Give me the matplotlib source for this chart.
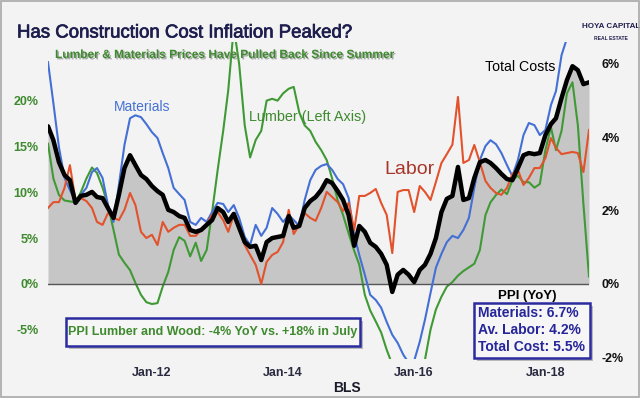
import numpy as np
import pandas as pd
import matplotlib
matplotlib.use('Agg')
import matplotlib.pyplot as plt
import matplotlib.dates as mdates
import matplotlib.patheffects as pe
from matplotlib.patches import Rectangle
from matplotlib import font_manager as fm


def pick(*names):
    for n in names:
        try:
            fm.findfont(fm.FontProperties(family=n), fallback_to_default=False)
            return n
        except Exception:
            pass
    return 'DejaVu Sans'


SANS = pick('Liberation Sans', 'Arial')
NARROW = pick('Roboto', 'Liberation Sans')

# ---------------- data (YoY %, monthly, Jun-2010 .. Sep-2018) ----------------
start_month = '2010-06-01'

total_costs = [4.30, 3.92, 3.32, 2.97, 2.83, 2.21, 2.40, 2.43, 2.51, 2.37,
               2.34, 2.07, 1.80, 2.43, 3.16, 3.51, 3.24, 2.97, 2.86, 2.67,
               2.53, 2.43, 2.02, 1.96, 1.85, 1.80, 1.47, 1.42, 1.47, 1.61,
               1.74, 2.07, 1.96, 1.69, 1.91, 1.53, 1.14, 1.01, 1.04, 0.65,
               1.14, 1.25, 1.28, 1.31, 1.85, 1.53, 1.58, 2.07, 2.26, 2.37,
               2.56, 2.83, 2.75, 2.53, 2.29, 1.88, 1.04, 1.58, 1.42, 1.12,
               1.01, 0.82, 0.52, -0.22, 0.25, 0.38, 0.25, 0.05, 0.38, 0.52,
               0.82, 1.25, 1.96, 2.32, 2.40, 3.19, 2.29, 2.34, 2.89, 3.32,
               3.38, 3.30, 3.16, 3.00, 2.86, 2.83, 3.16, 3.51, 3.57, 3.54,
               3.57, 4.06, 4.36, 4.52, 5.07, 5.56, 5.94, 5.83, 5.45, 5.50]

materials = [6.05, 4.93, 3.73, 2.89, 2.56, 2.26, 2.43, 2.62, 3.05, 3.16,
             2.89, 2.15, 1.69, 2.70, 3.79, 4.52, 4.60, 4.55, 4.36, 4.14,
             3.98, 3.57, 3.16, 2.62, 2.45, 2.29, 1.69, 1.61, 1.80, 1.69,
             1.96, 2.21, 2.18, 1.96, 2.15, 1.80, 1.28, 1.06, 1.61, 1.31,
             1.53, 2.07, 1.91, 1.69, 1.88, 1.74, 1.58, 2.29, 2.83, 3.11,
             3.22, 3.27, 3.11, 2.86, 2.72, 2.34, 1.34, 0.79, 0.25, -0.30,
             -0.44, -0.65, -1.04, -1.39, -1.61, -1.93, -2.15, -2.10, -1.58, -0.98,
             -0.25, 0.44, 0.82, 1.14, 1.31, 1.25, 1.47, 1.80, 2.62, 3.38,
             3.76, 3.92, 3.81, 3.57, 3.24, 2.94, 3.38, 4.06, 4.39, 4.33,
             4.06, 4.20, 4.88, 5.26, 6.24, 6.70, 7.00, 7.10, 6.90, 6.70]

labor = [2.07, 2.23, 2.23, 2.62, 3.24, 2.29, 2.34, 2.26, 2.07, 1.69,
         1.61, 1.93, 1.80, 1.74, 2.02, 2.48, 2.15, 1.42, 1.25, 1.34,
         1.06, 1.69, 1.42, 1.53, 1.61, 1.61, 1.31, 1.31, 1.47, 1.63,
         1.88, 1.96, 1.74, 1.42, 1.88, 1.47, 1.06, 0.79, 0.52, 0.00,
         0.60, 0.79, 0.87, 1.14, 2.02, 1.36, 1.61, 1.93, 1.80, 1.72,
         2.07, 2.51, 2.37, 2.23, 1.99, 2.21, 1.47, 2.40, 2.40, 2.48,
         2.59, 2.21, 1.88, 0.84, 2.51, 2.56, 2.56, 1.96, 2.67, 2.51,
         2.29, 2.78, 3.30, 3.54, 3.80, 5.10, 3.30, 3.38, 3.79, 3.32,
         2.81, 2.62, 2.48, 2.43, 2.62, 3.00, 3.11, 2.70, 2.89, 3.16,
         3.16, 3.43, 3.98, 3.71, 3.54, 3.57, 3.60, 3.57, 3.05, 4.20]

lumber = [15.3, 11.5, 9.7, 9.1, 9.0, 8.9, 10.0, 11.5, 12.7, 12.1,
          10.5, 8.6, 5.9, 3.2, 2.3, 1.5, 0.1, -1.2, -2.0, -2.2,
          -2.1, -0.3, 1.3, 3.7, 5.1, 4.7, 3.0, 4.5, 2.5, 3.7,
          7.8, 12.4, 16.7, 21.1, 28.0, 24.0, 17.3, 13.8, 15.7, 16.7,
          20.0, 20.2, 20.0, 20.8, 21.3, 21.5, 18.7, 17.3, 16.7, 15.5,
          14.6, 13.5, 11.5, 9.1, 7.5, 5.5, 3.6, 2.1, -1.2, -2.9,
          -4.1, -5.3, -7.2, -8.8, -10.4, -11.5, -11.7, -11.0, -9.9, -8.3,
          -5.0, -2.8, -1.4, -0.3, 0.2, 0.9, 1.4, 1.8, 2.2, 3.7,
          7.5, 8.9, 9.7, 10.3, 9.8, 11.3, 11.8, 11.1, 11.1, 10.5,
          10.9, 14.6, 17.1, 14.6, 16.7, 20.8, 22.0, 17.3, 8.7, 0.8]

left_ticks = [-5, 0, 5, 10, 15, 20]
right_ticks = [-2, 0, 2, 4, 6]
x_tick_years = [2012, 2014, 2016, 2018]

dates = pd.date_range(start_month, periods=len(total_costs), freq='MS')

# ---------------- styling ----------------
BG = '#f3f3f3'
NAVY = '#1e1e4e'
GREEN = '#3f9a35'
GREEN_TXT = '#3e8a2e'
BLUE = '#4470d6'
RED = '#e2522c'
LABOR_TXT = '#a8362a'

fig = plt.figure(figsize=(6.4, 3.98), dpi=100, facecolor=BG)
W, H = 640.0, 398.0


def fx(px):
    return px / W


def fy(py):
    return 1 - py / H


rect = [fx(48), fy(359), fx(589) - fx(48), fy(42) - fy(359)]
RLIM = (-2.05, 6.6)
LLIM = (RLIM[0] * 4, RLIM[1] * 4)

ax_fill = fig.add_axes(rect)
ax_lum = fig.add_axes(rect, sharex=ax_fill)
ax_main = fig.add_axes(rect, sharex=ax_fill)

for a in (ax_fill, ax_lum, ax_main):
    a.set_facecolor('none')
    for s in a.spines.values():
        s.set_visible(False)
    a.tick_params(length=0)
ax_fill.set_facecolor(BG)

# gray area under total costs
ax_fill.fill_between(dates, 0, total_costs, color='#c6c6c6', lw=0)
ax_fill.set_ylim(*RLIM)
ax_fill.set_yticks([])
ax_fill.tick_params(labelbottom=False)

# lumber on left axis
ax_lum.plot(dates, lumber, color=GREEN, lw=1.5, solid_joinstyle='round')
ax_lum.set_ylim(*LLIM)
ax_lum.set_yticks(left_ticks)
ax_lum.set_yticklabels([f'{t}%' for t in left_ticks])
ax_lum.tick_params(axis='y', pad=7, labelcolor=GREEN_TXT, labelsize=9)
for lab in ax_lum.get_yticklabels():
    lab.set_fontweight('bold')
    lab.set_family(SANS)
ax_lum.tick_params(labelbottom=False)

# main right axis
ax_main.axhline(0, color='#555555', lw=1.0, zorder=1)
ax_main.plot(dates, materials, color=BLUE, lw=1.5, zorder=2)
ax_main.plot(dates, labor, color=RED, lw=1.5, zorder=3)
ax_main.plot(dates, total_costs, color='black', lw=3.2, zorder=4,
             solid_joinstyle='round', solid_capstyle='round')
ax_main.set_ylim(*RLIM)
ax_main.yaxis.tick_right()
ax_main.set_yticks(right_ticks)
ax_main.set_yticklabels([f'{t}%' for t in right_ticks])
ax_main.tick_params(axis='y', pad=9, labelcolor='#111111', labelsize=9)
for lab in ax_main.get_yticklabels():
    lab.set_fontweight('bold')
    lab.set_family(SANS)

ax_main.set_xlim(dates[0], dates[-1])
ax_main.set_xticks([pd.Timestamp(f'{y}-01-01') for y in x_tick_years])
ax_main.xaxis.set_major_formatter(mdates.DateFormatter('%b-%y'))
ax_main.tick_params(axis='x', pad=6, labelcolor='#2a2a40', labelsize=9)
for lab in ax_main.get_xticklabels():
    lab.set_fontweight('bold')
    lab.set_family(SANS)

# ---------------- texts ----------------
fig.text(fx(17), fy(33), 'Has Construction Cost Inflation Peaked?', color=NAVY,
         fontsize=13.4, family=SANS, ha='left', va='center',
         path_effects=[pe.withStroke(linewidth=0.5, foreground=NAVY)])
fig.text(fx(55), fy(55), 'Lumber & Materials Prices Have Pulled Back Since Summer',
         color=GREEN_TXT, fontsize=8.6, family=SANS, fontweight='bold',
         ha='left', va='center', zorder=10,
         path_effects=[pe.withSimplePatchShadow(offset=(1, -1), shadow_rgbFace='#777777', alpha=0.6)])

fig.text(fx(142), fy(107), 'Materials', color=BLUE, fontsize=10, family=SANS,
         ha='center', va='center')
fig.text(fx(308), fy(117), 'Lumber (Left Axis)', color=GREEN_TXT, fontsize=10.4,
         family=SANS, ha='center', va='center')
fig.text(fx(410), fy(170), 'Labor', color=LABOR_TXT, fontsize=14, family=SANS,
         ha='center', va='center')
fig.text(fx(520), fy(67), 'Total Costs', color='black', fontsize=10.2, family=SANS,
         ha='center', va='center', zorder=10)

# logo
fig.text(fx(611), fy(27), 'HOYA CAPITAL', color=NAVY, fontsize=5.8, family=SANS,
         fontweight='bold', ha='center', va='center')
fig.text(fx(611), fy(38), 'REAL ESTATE', color=NAVY, fontsize=3.6, family=SANS,
         fontweight='bold', ha='center', va='center')

# lumber box
fig.patches.append(Rectangle((fx(66), fy(346)), fx(360) - fx(66), fy(318) - fy(346),
                             transform=fig.transFigure, facecolor='#f6f6f6',
                             edgecolor='#2b2ba0', lw=1.8, zorder=5,
                             path_effects=[pe.withSimplePatchShadow(offset=(2, -2), alpha=0.35)]))
fig.text(fx(213), fy(332), 'PPI Lumber and Wood: -4% YoY vs. +18% in July', color=GREEN_TXT,
         fontsize=9, family=SANS, fontweight='bold', ha='center', va='center', zorder=6)

# PPI box
fig.text(fx(527), fy(296), 'PPI (YoY)', color='black', fontsize=9.5, family=SANS,
         fontweight='bold', ha='center', va='center', zorder=6)
fig.patches.append(Rectangle((fx(474), fy(358)), fx(590) - fx(474), fy(303) - fy(358),
                             transform=fig.transFigure, facecolor='#f6f6f6',
                             edgecolor='#2b2ba0', lw=1.8, zorder=5,
                             path_effects=[pe.withSimplePatchShadow(offset=(2, -2), alpha=0.35)]))
for i, s in enumerate(['Materials: 6.7%', 'Av. Labor: 4.2%', 'Total Cost: 5.5%']):
    fig.text(fx(478), fy(313 + 17 * i), s, color='#26269a', fontsize=10, family=SANS,
             fontweight='bold', ha='left', va='center', zorder=6)

fig.text(fx(347), fy(388), 'BLS', color='#1a1a2a', fontsize=10, family=SANS,
         fontweight='bold', ha='center', va='center')

# outer border
fig.patches.append(Rectangle((0.001, 0.002), 0.997, 0.995, transform=fig.transFigure,
                             facecolor='none', edgecolor='#a8a8a8', lw=1.2, zorder=20))

fig.savefig('out.png', dpi=100, facecolor=BG)
